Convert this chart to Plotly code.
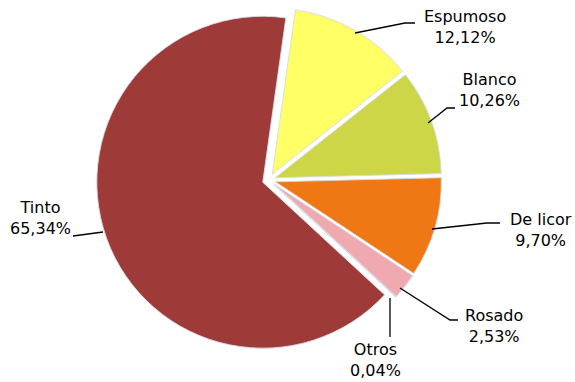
import plotly.graph_objects as go

# Wine categories and their share of the total (%)
categories = ["Espumoso", "Blanco", "De licor", "Rosado", "Otros", "Tinto"]
shares = [12.12, 10.26, 9.70, 2.53, 0.04, 65.34]
colors = ["#FFFF66", "#CCD646", "#F07814", "#F0AAAF", "#C8CCD8", "#9E3B39"]

W, H = 575, 382
FONT = dict(family="DejaVu Sans", size=16, color="#000000")

# Label placement (pixel coordinates, origin top-left): text centre and leader-line path
label_layout = {
    "Espumoso": dict(text_xy=(465, 27), line=[(355, 33), (405, 23), (415, 23)]),
    "Blanco": dict(text_xy=(489, 90), line=[(428, 123), (447, 108), (455, 108)]),
    "De licor": dict(text_xy=(541, 230), line=[(432, 229), (487, 223), (500, 223)]),
    "Rosado": dict(text_xy=(494, 326), line=[(400, 288), (450, 320), (458, 320)]),
    "Otros": dict(text_xy=(375, 360), line=[(390, 298), (390, 337)]),
    "Tinto": dict(text_xy=(40, 218), line=[(103, 232), (73, 236)]),
}


def px(x, y):
    """Convert pixel position to paper coordinates."""
    return x / W, 1 - y / H


def fmt(v):
    return f"{v:.2f}".replace(".", ",") + "%"


fig = go.Figure(
    go.Pie(
        labels=categories,
        values=shares,
        sort=False,
        direction="clockwise",
        rotation=8,
        pull=[0.04] * len(shares),
        marker=dict(colors=colors, line=dict(color="rgba(214,218,226,0.9)", width=1)),
        textinfo="none",
        hoverinfo="label+percent",
        domain=dict(x=[0.1677, 0.7680], y=[0.0770, 0.9807]),
        showlegend=False,
    )
)

annotations = []
shapes = []
for name, value in zip(categories, shares):
    spec = label_layout[name]
    tx, ty = px(*spec["text_xy"])
    annotations.append(
        dict(
            x=tx, y=ty, xref="paper", yref="paper",
            text=f"{name}<br>{fmt(value)}",
            showarrow=False, align="center",
            xanchor="center", yanchor="middle",
            font=FONT,
        )
    )
    pts = [px(*p) for p in spec["line"]]
    path = "M " + " L ".join(f"{x},{y}" for x, y in pts)
    shapes.append(
        dict(type="path", path=path, xref="paper", yref="paper",
             line=dict(color="#000000", width=1.3))
    )

fig.update_layout(
    width=W, height=H,
    margin=dict(l=0, r=0, t=0, b=0),
    paper_bgcolor="white",
    plot_bgcolor="white",
    annotations=annotations,
    shapes=shapes,
)

fig.write_html("out.html")
